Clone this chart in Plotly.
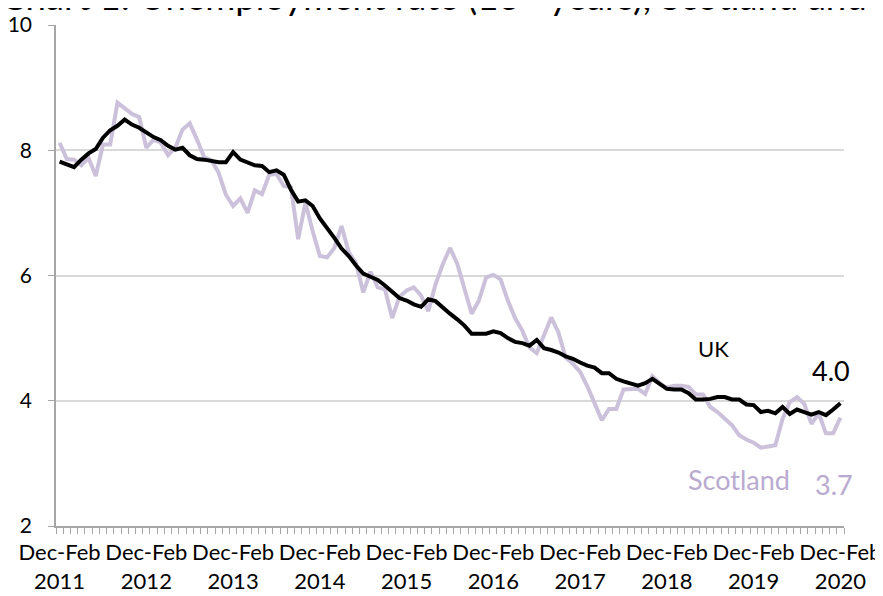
import plotly.graph_objects as go

# ---- data -------------------------------------------------------------
months = ["Dec-Feb", "Jan-Mar", "Feb-Apr", "Mar-May", "Apr-Jun", "May-Jul",
          "Jun-Aug", "Jul-Sep", "Aug-Oct", "Sep-Nov", "Oct-Dec", "Nov-Jan"]
years = [2011, 2012, 2013, 2014, 2015, 2016, 2017, 2018, 2019, 2020]
periods = []
for yr in years:
    for m in months:
        periods.append(f"{m} {yr}")
periods = periods[:109]

uk = [7.82, 7.78, 7.73, 7.85, 7.95, 8.02, 8.20, 8.32, 8.39, 8.49, 8.41, 8.36,
      8.29, 8.21, 8.16, 8.07, 8.01, 8.04, 7.92, 7.86, 7.85, 7.83, 7.81, 7.81,
      7.97, 7.85, 7.80, 7.76, 7.75, 7.65, 7.68, 7.61, 7.37, 7.18, 7.20, 7.11,
      6.91, 6.76, 6.60, 6.43, 6.31, 6.16, 6.03, 5.98, 5.93, 5.84, 5.73, 5.64,
      5.60, 5.54, 5.50, 5.62, 5.59, 5.50, 5.39, 5.30, 5.20, 5.07, 5.07, 5.07,
      5.11, 5.08, 5.00, 4.94, 4.92, 4.88, 4.97, 4.84, 4.81, 4.77, 4.71, 4.67,
      4.61, 4.56, 4.53, 4.44, 4.44, 4.35, 4.31, 4.28, 4.24, 4.28, 4.35, 4.27,
      4.19, 4.18, 4.18, 4.12, 4.02, 4.02, 4.03, 4.06, 4.06, 4.02, 4.02, 3.94,
      3.93, 3.82, 3.84, 3.80, 3.90, 3.79, 3.86, 3.82, 3.78, 3.82, 3.77, 3.86,
      3.96]

scotland = [8.12, 7.86, 7.85, 7.76, 7.88, 7.59, 8.09, 8.09, 8.76, 8.67, 8.58, 8.53,
            8.04, 8.17, 8.12, 7.92, 8.04, 8.33, 8.43, 8.17, 7.89, 7.84, 7.64, 7.29,
            7.11, 7.23, 7.00, 7.36, 7.30, 7.61, 7.62, 7.43, 7.41, 6.58, 7.16, 6.71,
            6.31, 6.29, 6.44, 6.79, 6.37, 6.20, 5.73, 6.06, 5.81, 5.78, 5.32, 5.66,
            5.76, 5.81, 5.68, 5.43, 5.86, 6.18, 6.44, 6.19, 5.76, 5.39, 5.60, 5.97,
            6.01, 5.94, 5.60, 5.32, 5.12, 4.85, 4.76, 5.04, 5.33, 5.09, 4.69, 4.59,
            4.46, 4.23, 3.95, 3.69, 3.87, 3.87, 4.18, 4.18, 4.19, 4.11, 4.39, 4.28,
            4.21, 4.24, 4.24, 4.22, 4.10, 4.10, 3.90, 3.82, 3.71, 3.61, 3.45, 3.38,
            3.33, 3.25, 3.27, 3.29, 3.71, 3.98, 4.06, 3.95, 3.63, 3.80, 3.48, 3.48,
            3.73]

tick_labels = [f"Dec-Feb<br>{y}" for y in years]
y_ticks = [2, 4, 6, 8, 10]
title = "Chart 1: Unemployment rate (16+ years), Scotland and UK"

# ---- figure -----------------------------------------------------------
FONT = "Lato"
UK_COL = "#000000"
SC_COL = "#CCC1DA"
SC_TXT = "#B9ABD0"

idx = list(range(len(periods)))

fig = go.Figure()
fig.add_trace(go.Scatter(x=idx, y=scotland, mode="lines", name="Scotland",
                         line=dict(color=SC_COL, width=4),
                         hovertext=periods, hoverinfo="text+y"))
fig.add_trace(go.Scatter(x=idx, y=uk, mode="lines", name="UK",
                         line=dict(color=UK_COL, width=4),
                         hovertext=periods, hoverinfo="text+y"))

last = len(periods) - 1
fig.add_annotation(x=last - 17.5, y=uk[last], xref="x", yref="y", text="UK",
                   showarrow=False, yshift=55, font=dict(family=FONT, size=22, color="#000"))
fig.add_annotation(x=last - 1.3, y=uk[last], xref="x", yref="y", text=f"{round(uk[last], 1):.1f}",
                   showarrow=False, yshift=33, font=dict(family=FONT, size=27, color="#000"))
fig.add_annotation(x=last - 14, y=scotland[last], xref="x", yref="y", text="Scotland",
                   showarrow=False, yshift=-62, font=dict(family=FONT, size=27, color=SC_TXT))
fig.add_annotation(x=last - 0.85, y=scotland[last], xref="x", yref="y", text=f"{round(scotland[last], 1):.1f}",
                   showarrow=False, yshift=-67, font=dict(family=FONT, size=27, color=SC_TXT))

fig.add_annotation(x=0, y=1, xref="paper", yref="paper", xanchor="left", yanchor="bottom",
                   xshift=-57, yshift=5, text=title, showarrow=False,
                   font=dict(family=FONT, size=36.5, color="#000"))

# page body has an 8px margin: compensate so the plot area lands where it should
fig.update_layout(
    width=883, height=596,
    margin=dict(l=48, r=47, t=17, b=78, autoexpand=False),
    paper_bgcolor="white", plot_bgcolor="white",
    showlegend=False,
    font=dict(family=FONT, size=22, color="#000"),
    xaxis=dict(range=[-0.5, last + 0.5], tickmode="array", automargin=False,
               tickvals=[i for i in idx if i % 12 == 0], ticktext=tick_labels,
               ticks="", showline=True, linecolor="#A6A6A6", linewidth=1.5,
               showgrid=False, zeroline=False, ticklabelstandoff=6,
               tickfont=dict(family=FONT, size=22, color="#000"),
               minor=dict(tickmode="array", tickvals=[i - 0.5 for i in idx] + [last + 0.5],
                          ticks="outside", ticklen=6, tickwidth=1, tickcolor="#A6A6A6",
                          showgrid=False)),
    yaxis=dict(range=[2, 10], tickmode="array", tickvals=y_ticks, automargin=False,
               ticks="outside", ticklen=6, tickcolor="#A6A6A6", tickwidth=1,
               showline=True, linecolor="#A6A6A6", linewidth=1.5,
               showgrid=True, gridcolor="#D9D9D9", gridwidth=1.5, zeroline=False,
               ticklabelstandoff=12,
               tickfont=dict(family=FONT, size=21, color="#000")),
)

fig.write_html("out.html")
